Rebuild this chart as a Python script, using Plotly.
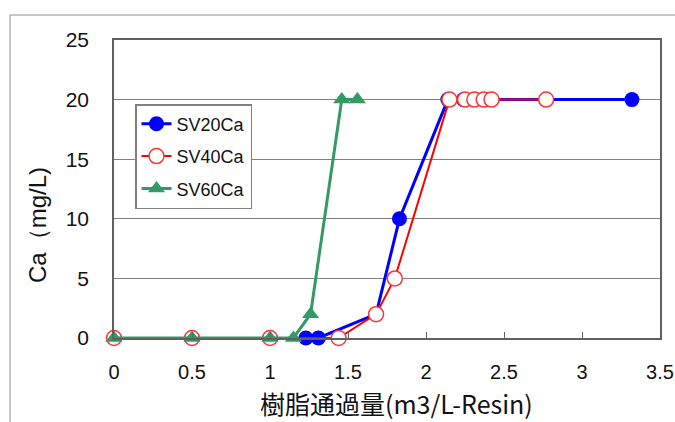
import plotly.graph_objects as go

# Data
sv20_x = [1.23, 1.31, 1.68, 1.83, 2.14, 2.24, 3.32]
sv20_y = [0, 0, 2, 10, 20, 20, 20]

sv40_x = [0, 0.5, 1.0, 1.44, 1.68, 1.80, 2.15, 2.25, 2.31, 2.37, 2.42, 2.77]
sv40_y = [0, 0, 0, 0, 2, 5, 20, 20, 20, 20, 20, 20]

sv60_x = [0, 0.5, 1.0, 1.15, 1.26, 1.46, 1.56]
sv60_y = [0, 0, 0, 0, 2, 20, 20]

x_ticks = [0, 0.5, 1, 1.5, 2, 2.5, 3, 3.5]
x_tick_labels = ["0", "0.5", "1", "1.5", "2", "2.5", "3", "3.5"]
y_ticks = [0, 5, 10, 15, 20, 25]

W, H = 675, 422
L, R, T, B = 114, 15, 40, 84

fig = go.Figure()
fig.add_trace(go.Scatter(
    x=sv20_x, y=sv20_y, name="SV20Ca", mode="lines+markers", legendgroup="a",
    line=dict(color="#0000FF", width=3),
    marker=dict(symbol="circle", size=15, color="#0000FF"),
    cliponaxis=False))
fig.add_trace(go.Scatter(
    x=sv40_x, y=sv40_y, name="SV40Ca", mode="lines+markers", legendgroup="b",
    line=dict(color="#FF0000", width=2),
    marker=dict(symbol="circle", size=15, color="#FFFFFF",
                line=dict(color="#FF3333", width=1.5)),
    cliponaxis=False))
fig.add_trace(go.Scatter(
    x=sv60_x, y=sv60_y, name="SV60Ca", mode="lines+markers", legendgroup="c",
    line=dict(color="#339966", width=3),
    marker=dict(symbol="triangle-up", size=15, color="#339966"),
    cliponaxis=False))

font_num = "Liberation Sans, Arial, sans-serif"

fig.update_layout(
    width=W, height=H,
    margin=dict(l=L, r=R, t=T, b=B, autoexpand=False),
    paper_bgcolor="white", plot_bgcolor="white",
    showlegend=True,
    legend=dict(
        x=(135 - L) / (W - L - R), y=(H - B - 104) / (H - T - B),
        xanchor="left", yanchor="top",
        bgcolor="white", bordercolor="#808080", borderwidth=1.5,
        font=dict(family=font_num, size=18, color="#111111"),
        traceorder="grouped", tracegroupgap=6,
    ),
    xaxis=dict(
        range=[0, 3.5], tickvals=x_ticks, ticktext=x_tick_labels,
        showgrid=False, zeroline=False, automargin=False,
        showline=True, linecolor="#606060", linewidth=1.5, mirror=True,
        ticks="inside", ticklen=6, tickcolor="#606060",
        tickfont=dict(family=font_num, size=20, color="#111111"),
        ticklabelstandoff=15,
    ),
    yaxis=dict(
        range=[0, 25], tickvals=y_ticks, automargin=False,
        showgrid=True, gridcolor="#808080", gridwidth=1.2,
        zeroline=False,
        showline=True, linecolor="#606060", linewidth=1.5, mirror=True,
        ticks="",
        tickfont=dict(family=font_num, size=21, color="#111111"),
        ticklabelstandoff=19,
    ),
)

pw, ph = W - L - R, H - T - B
def px(x):
    return (x - L) / pw
def py(y):
    return (H - B - y) / ph

# Outer chart frame (partially cropped)
fig.add_shape(type="line", xref="paper", yref="paper",
              x0=px(10), x1=px(676), y0=py(15), y1=py(15),
              line=dict(color="#b4b4b4", width=1.5))
fig.add_shape(type="line", xref="paper", yref="paper",
              x0=px(10), x1=px(10), y0=py(15), y1=py(423),
              line=dict(color="#b4b4b4", width=1.5))

fig.add_annotation(text="樹脂通過量(m3/L-Resin)", xref="paper", yref="paper",
                   x=px(396), y=py(403), showarrow=False,
                   xanchor="center", yanchor="middle",
                   font=dict(family="Noto Sans CJK JP", size=25, color="#111111"))
fig.add_annotation(text="Ca（mg/L)", xref="paper", yref="paper",
                   x=px(37), y=py(225), showarrow=False, textangle=-90,
                   xanchor="center", yanchor="middle",
                   font=dict(family=font_num, size=24, color="#111111"))

fig.write_html("out.html", config={"displayModeBar": False},
               post_script="document.body.style.margin='0';")
